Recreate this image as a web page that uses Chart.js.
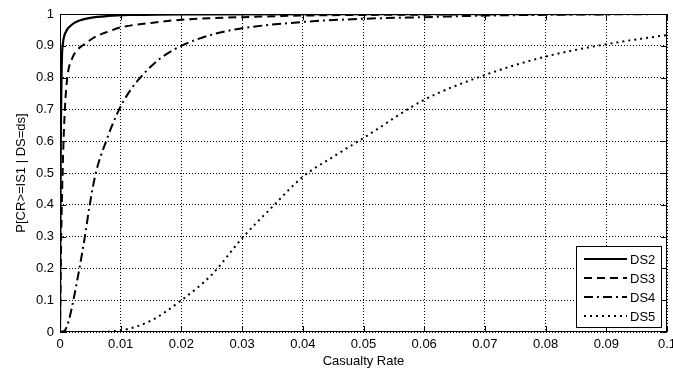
<!DOCTYPE html>
<html>
<head>
<meta charset="utf-8">
<script src="https://cdn.jsdelivr.net/npm/chart.js@4/dist/chart.umd.min.js"></script>
<style>
  html, body { margin: 0; padding: 0; background: #fff; }
  #wrap { width: 673px; height: 373px; }
</style>
</head>
<body>
<div id="wrap"><canvas id="cdf"></canvas></div>
<script>
// values
const seriesNames = ['DS2', 'DS3', 'DS4', 'DS5'];
const xTicks = [0, 0.01, 0.02, 0.03, 0.04, 0.05, 0.06, 0.07, 0.08, 0.09, 0.1];
const yTicks = [0, 0.1, 0.2, 0.3, 0.4, 0.5, 0.6, 0.7, 0.8, 0.9, 1];

const ds2X = [0, 0.0001, 0.0003, 0.0005, 0.001, 0.002, 0.003, 0.005, 0.008, 0.012, 0.02, 0.1];
const ds2Y = [0, 0.5, 0.85, 0.91, 0.945, 0.967, 0.978, 0.988, 0.994, 0.997, 0.999, 1];

const ds3X = [0, 0.0002, 0.0005, 0.0008, 0.0012, 0.002, 0.003, 0.004, 0.006, 0.008, 0.01, 0.015, 0.02, 0.03, 0.04, 0.06, 0.1];
const ds3Y = [0, 0.3, 0.55, 0.7, 0.8, 0.86, 0.89, 0.905, 0.93, 0.945, 0.958, 0.972, 0.982, 0.99, 0.995, 0.998, 1];

const ds4X = [0, 0.0008, 0.0015, 0.0022, 0.0032, 0.0041, 0.0049, 0.0059, 0.0076, 0.0095, 0.0114, 0.0137, 0.0165, 0.02, 0.025, 0.03, 0.04, 0.05, 0.06, 0.07, 0.1];
const ds4Y = [0, 0.005, 0.04, 0.1, 0.2, 0.3, 0.4, 0.5, 0.6, 0.69, 0.755, 0.81, 0.86, 0.9, 0.935, 0.955, 0.975, 0.985, 0.99, 0.995, 1];

const ds5X = [0, 0.005, 0.01, 0.015, 0.02, 0.025, 0.03, 0.035, 0.04, 0.045, 0.05, 0.06, 0.07, 0.08, 0.09, 0.1];
const ds5Y = [0, 0, 0.005, 0.036, 0.1, 0.18, 0.295, 0.394, 0.488, 0.551, 0.61, 0.73, 0.808, 0.866, 0.905, 0.934];

const lineDashes = [[], [8, 5], [9, 4, 2, 4], [2, 4]];

function toPoints(xs, ys) {
  return xs.map((x, i) => ({ x: x, y: ys[i] }));
}

const allSeries = [[ds2X, ds2Y], [ds3X, ds3Y], [ds4X, ds4Y], [ds5X, ds5Y]];

const datasets = allSeries.map((s, i) => ({
  label: seriesNames[i],
  data: toPoints(s[0], s[1]),
  showLine: true,
  borderColor: '#000',
  borderWidth: i === 0 ? 2.2 : 2,
  borderDash: lineDashes[i],
  pointRadius: 0,
  cubicInterpolationMode: 'monotone',
  fill: false
}));

// box, inward ticks and legend like a matlab figure
const matlabFrame = {
  id: 'matlabFrame',
  afterDatasetsDraw(chart) {
    const ctx = chart.ctx;
    const a = chart.chartArea;
    const xs = chart.scales.x;
    const ys = chart.scales.y;
    ctx.save();
    ctx.strokeStyle = '#000';
    ctx.lineWidth = 1;
    ctx.setLineDash([]);
    ctx.strokeRect(a.left + 0.5, a.top + 0.5, a.right - a.left - 1, a.bottom - a.top - 1);
    ctx.beginPath();
    xTicks.forEach(v => {
      const px = Math.round(xs.getPixelForValue(v)) + 0.5;
      ctx.moveTo(px, a.bottom); ctx.lineTo(px, a.bottom - 6);
      ctx.moveTo(px, a.top); ctx.lineTo(px, a.top + 6);
    });
    yTicks.forEach(v => {
      const py = Math.round(ys.getPixelForValue(v)) + 0.5;
      ctx.moveTo(a.left, py); ctx.lineTo(a.left + 6, py);
      ctx.moveTo(a.right, py); ctx.lineTo(a.right - 6, py);
    });
    ctx.stroke();

    // legend
    const lx = 576, ly = 246, lw = 85, lh = 81;
    ctx.fillStyle = '#fff';
    ctx.fillRect(lx, ly, lw, lh);
    ctx.strokeRect(lx + 0.5, ly + 0.5, lw, lh);
    ctx.font = '13px "Liberation Sans", Arial, sans-serif';
    ctx.textBaseline = 'middle';
    ctx.fillStyle = '#000';
    chart.data.datasets.forEach((d, i) => {
      const yy = ly + 13 + i * 19;
      ctx.beginPath();
      ctx.lineWidth = 2;
      ctx.setLineDash(d.borderDash);
      ctx.moveTo(lx + 8, yy);
      ctx.lineTo(lx + 51, yy);
      ctx.stroke();
      ctx.setLineDash([]);
      ctx.fillText(d.label, lx + 54, yy + 1);
    });
    ctx.restore();
  }
};

const tickFont = { family: '"Liberation Sans", Arial, sans-serif', size: 13 };

new Chart(document.getElementById('cdf'), {
  type: 'scatter',
  data: { datasets: datasets },
  options: {
    responsive: true,
    maintainAspectRatio: false,
    animation: false,
    layout: { padding: { left: 0, right: 0, top: 14, bottom: 0 } },
    plugins: {
      legend: { display: false },
      tooltip: { enabled: false }
    },
    scales: {
      x: {
        type: 'linear',
        min: 0,
        max: 0.1,
        afterBuildTicks: s => { s.ticks = xTicks.map(v => ({ value: v })); },
        afterFit: s => { s.height = 41; s.paddingRight = 6; s.paddingLeft = 0; },
        ticks: {
          color: '#000',
          font: tickFont,
          padding: 5,
          maxRotation: 0,
          callback: v => String(parseFloat(v.toFixed(3)))
        },
        grid: { color: '#000', lineWidth: 1, drawTicks: false },
        border: { display: false, dash: [1, 2] },
        title: { display: true, text: 'Casualty Rate', color: '#000', font: tickFont, padding: { top: 0 } }
      },
      y: {
        type: 'linear',
        min: 0,
        max: 1,
        afterBuildTicks: s => { s.ticks = yTicks.map(v => ({ value: v })); },
        afterFit: s => { s.width = 60; s.paddingTop = 0; s.paddingBottom = 0; },
        ticks: {
          color: '#000',
          font: tickFont,
          padding: 6,
          callback: v => String(parseFloat(v.toFixed(2)))
        },
        grid: { color: '#000', lineWidth: 1, drawTicks: false },
        border: { display: false, dash: [1, 2] },
        title: { display: true, text: 'P[CR>=IS1 | DS=ds]', color: '#000', font: tickFont, padding: { top: 14, bottom: 0 } }
      }
    }
  },
  plugins: [matlabFrame]
});
</script>
</body>
</html>
